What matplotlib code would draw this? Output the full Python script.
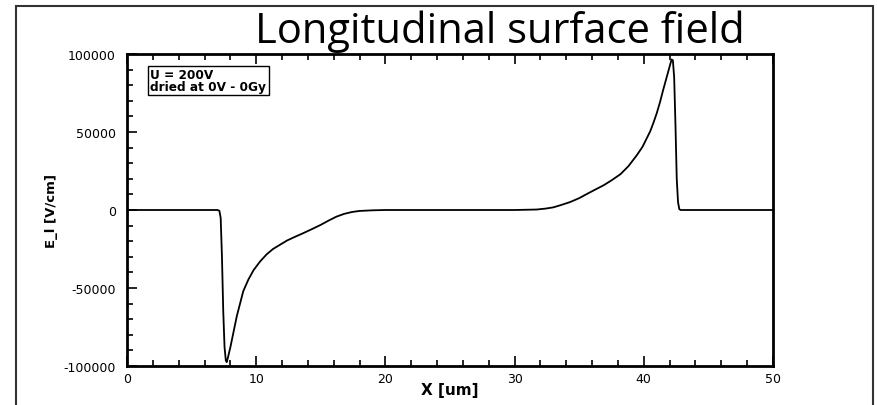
import matplotlib
matplotlib.use("Agg")
import matplotlib.pyplot as plt
from matplotlib.patches import Rectangle
from matplotlib.ticker import MultipleLocator

# position along the surface [um] and longitudinal field [V/cm]
x_um = [0, 7.0, 7.15, 7.25, 7.35, 7.45, 7.55, 7.65, 7.72, 7.8, 7.9, 8.0, 8.25,
        8.5, 8.75, 9.0, 9.4, 9.8, 10.3, 10.8, 11.3, 11.8, 12.4, 13.0, 13.6,
        14.3, 15.0, 15.6, 16.2, 16.8, 17.4, 18.0, 19.0, 20.0, 25.0, 30.0,
        31.7, 32.4, 33.0, 33.6, 34.3, 35.0, 35.6, 36.2, 36.9, 37.5, 38.2,
        38.8, 39.45, 39.9, 40.2, 40.5, 40.75, 41.0, 41.25, 41.5, 41.8, 42.0,
        42.15, 42.25, 42.35, 42.45, 42.55, 42.65, 42.75, 42.85, 50.0]
e_field = [0, 0, -500, -5000, -30000, -65000, -88000, -96500, -97500, -95000,
           -91500, -88000, -78000, -68000, -60000, -52000, -44500, -38500,
           -33000, -28500, -25000, -22500, -19500, -17200, -15000, -12300,
           -9500, -6800, -4300, -2500, -1300, -600, -200, 0, 0, 0,
           300, 900, 1700, 3200, 5100, 7600, 10300, 12900, 15900, 19000, 23000,
           28000, 35000, 40500, 45500, 50500, 56000, 62000, 69000, 77000,
           86000, 92000, 96500, 96000, 85000, 55000, 20000, 5000, 500, 0, 0]

x_ticks = [0, 10, 20, 30, 40, 50]
y_ticks = [-100000, -50000, 0, 50000, 100000]

fig = plt.figure(figsize=(8.77, 4.06), dpi=100)

# slide frame around everything (open at the bottom)
fig.patches.append(Rectangle((16 / 877, -0.1), (873 - 16) / 877, 1.1 - 7 / 406,
                             transform=fig.transFigure, fill=False,
                             edgecolor='#333333', linewidth=1.5))

ax = fig.add_axes([127 / 877, 39 / 406, 646 / 877, 312 / 406])
ax.plot(x_um, e_field, color='black', linewidth=1.3)

ax.set_xlim(0, 50)
ax.set_ylim(-100000, 100000)
ax.set_xticks(x_ticks)
ax.set_yticks(y_ticks)
ax.set_xticklabels([str(v) for v in x_ticks])
ax.set_yticklabels([str(v) for v in y_ticks])
ax.xaxis.set_minor_locator(MultipleLocator(2))
ax.yaxis.set_minor_locator(MultipleLocator(10000))
ax.tick_params(which='both', direction='in', top=True, right=False, width=1.2)
ax.tick_params(which='major', length=7, labelsize=9, pad=4)
ax.tick_params(which='minor', length=4)
ax.tick_params(axis='y', pad=8)
for s in ax.spines.values():
    s.set_linewidth(2)

ax.set_xlabel('X [um]', fontsize=11, fontweight='bold', labelpad=-2)
ax.set_ylabel('E_l [V/cm]', fontsize=9.5, fontweight='bold', labelpad=4)

ax.text(0.036, 0.955, 'U = 200V\ndried at 0V - 0Gy', transform=ax.transAxes,
        fontsize=8.7, fontweight='bold', va='top', ha='left', linespacing=0.9,
        bbox=dict(boxstyle='square,pad=0.2', facecolor='white',
                  edgecolor='black', linewidth=1))

fig.text(500 / 877, 1 - 43 / 406, 'Longitudinal surface field', fontsize=30,
         family='Open Sans', ha='center', va='baseline')

fig.savefig('out.png', dpi=100)
